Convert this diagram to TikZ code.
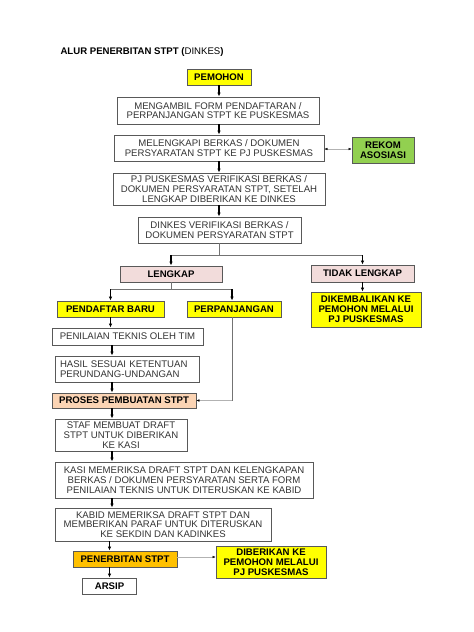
\documentclass[tikz,border=0pt]{standalone}
\usepackage{fontspec}
\setmainfont{Liberation Sans}
\usetikzlibrary{arrows.meta}
\definecolor{boxline}{gray}{.35}
\definecolor{textgray}{gray}{.2}
\definecolor{myyellow}{RGB}{255,255,0}
\definecolor{mygreen}{RGB}{146,208,80}
\definecolor{mypink}{RGB}{242,220,219}
\definecolor{mypeach}{RGB}{251,212,180}
\definecolor{myorange}{RGB}{255,192,0}
\newcommand{\boxfont}{\fontsize{9.6}{9.8}\selectfont}
\tikzset{
    common/.style={draw=boxline, line width=0.9pt, rectangle, inner sep=1pt, align=center},
    plain/.style={common, text=textgray, font=\boxfont},
    strong/.style={common, font=\boxfont\bfseries},
    yellowbox/.style={strong, fill=myyellow},
    pinkbox/.style={strong, fill=mypink},
    arr/.style={-{Latex[length=4pt,width=3.5pt]}, line width=1.1pt},
    link/.style={line width=0.8pt, black!55},
    thinarr/.style={line width=0.4pt, black!30, -{Latex[length=3pt,width=2.6pt,color=black]}},
    thinboth/.style={thinarr, {Latex[length=3pt,width=2.6pt,color=black]}-{Latex[length=3pt,width=2.6pt,color=black]}},
}
\begin{document}
\begin{tikzpicture}[x=1pt, y=-1pt]
    \useasboundingbox (0,0) rectangle (474,632);

    \node[anchor=west, font=\boxfont\bfseries] (title) at (57,52) {ALUR PENERBITAN STPT (\textmd{DINKES})};

    % main column
    \node[yellowbox, minimum width=64pt, minimum height=16pt] (pemohon) at (219,77) {PEMOHON};
    \node[plain, minimum width=202pt, minimum height=27pt] (mengambil) at (218,110.5)
        {MENGAMBIL FORM PENDAFTARAN /\\PERPANJANGAN STPT KE PUSKESMAS};
    \node[plain, minimum width=210pt, minimum height=26pt] (melengkapi) at (219,148)
        {MELENGKAPI BERKAS / DOKUMEN\\PERSYARATAN STPT KE PJ PUSKESMAS};
    \node[strong, fill=mygreen, minimum width=62pt, minimum height=26pt] (rekom) at (383,150)
        {REKOM\\ASOSIASI};
    \node[plain, minimum width=212pt, minimum height=32pt] (pjpusk) at (219,189)
        {PJ PUSKESMAS VERIFIKASI BERKAS /\\DOKUMEN PERSYARATAN STPT, SETELAH\\LENGKAP DIBERIKAN KE DINKES};
    \node[plain, minimum width=163pt, minimum height=26pt] (dinkesver) at (219.5,230)
        {DINKES VERIFIKASI BERKAS /\\DOKUMEN PERSYARATAN STPT};

    % branches
    \node[pinkbox, minimum width=102pt, minimum height=16pt] (lengkap) at (171,274) {LENGKAP};
    \node[pinkbox, minimum width=103pt, minimum height=17pt] (tidak) at (362.5,273.5) {TIDAK LENGKAP};
    \node[yellowbox, minimum width=110pt, minimum height=35pt] (kembali) at (366,309.5)
        {DIKEMBALIKAN KE\\PEMOHON MELALUI\\PJ PUSKESMAS};
    \node[yellowbox, minimum width=107pt, minimum height=16pt] (baru) at (110.5,309) {PENDAFTAR BARU};
    \node[yellowbox, minimum width=94pt, minimum height=16pt] (perpanjangan) at (234,309) {PERPANJANGAN};

    % process column
    \node[plain, minimum width=151pt, minimum height=17pt] (penilaian) at (127.5,336.5) {PENILAIAN TEKNIS OLEH TIM};
    \node[plain, text width=134pt, inner xsep=5pt, align=left, minimum height=26pt] (hasil) at (127,369)
        {HASIL SESUAI KETENTUAN\\PERUNDANG-UNDANGAN};
    \node[strong, fill=mypeach, minimum width=144pt, minimum height=15pt] (proses) at (124,400.5) {PROSES PEMBUATAN STPT};
    \node[plain, minimum width=132pt, minimum height=32pt] (staf) at (121,435)
        {STAF MEMBUAT DRAFT\\STPT UNTUK DIBERIKAN\\KE KASI};
    \node[plain, minimum width=258pt, minimum height=36pt] (kasi) at (184,480)
        {KASI MEMERIKSA DRAFT STPT DAN KELENGKAPAN\\BERKAS / DOKUMEN PERSYARATAN SERTA FORM\\PENILAIAN TEKNIS UNTUK DITERUSKAN KE KABID};
    \node[plain, minimum width=216pt, minimum height=33pt] (kabid) at (163,524.5)
        {KABID MEMERIKSA DRAFT STPT DAN\\MEMBERIKAN PARAF UNTUK DITERUSKAN\\KE SEKDIN DAN KADINKES};
    \node[strong, fill=myorange, minimum width=104pt, minimum height=16pt] (penerbitan) at (125,559) {PENERBITAN STPT};
    \node[yellowbox, minimum width=110pt, minimum height=32pt] (diberikan) at (271,562)
        {DIBERIKAN KE\\PEMOHON MELALUI\\PJ PUSKESMAS};
    \node[strong, minimum width=54pt, minimum height=16pt] (arsip) at (109.5,586) {ARSIP};

    \coordinate (split1) at (219.5,255);
    \coordinate (split2) at (171,289);
    \coordinate (col) at (112,0);
    \coordinate (bend) at (232,400.5);

    % connectors
    \draw[arr] (pemohon.south) -- (pemohon.south |- mengambil.north);
    \draw[arr] (pemohon.south |- mengambil.south) -- (pemohon.south |- melengkapi.north);
    \draw[arr] (pemohon.south |- melengkapi.south) -- (pemohon.south |- pjpusk.north);
    \draw[arr] (pemohon.south |- pjpusk.south) -- (pemohon.south |- dinkesver.north);
    \draw[thinboth] ([yshift=1pt]melengkapi.east |- rekom.west) -- ([yshift=1pt]rekom.west);

    \draw[link] (dinkesver.south) -- (split1);
    \draw[link] (lengkap.north |- split1) -- (tidak.north |- split1);
    \draw[arr] (lengkap.north |- split1) -- (lengkap.north);
    \draw[arr] (tidak.north |- split1) -- (tidak.north);
    \draw[arr] (tidak.south) -- (tidak.south |- kembali.north);

    \draw[link] (lengkap.south) -- (split2);
    \draw[link] (baru.north |- split2) -- ([xshift=-2pt]perpanjangan.north |- split2);
    \draw[arr] (baru.north |- split2) -- (baru.north);
    \draw[arr] ([xshift=-2pt]perpanjangan.north |- split2) -- ([xshift=-2pt]perpanjangan.north);

    \draw[arr] (baru.south) -- (baru.south |- penilaian.north);
    \draw[arr] (col |- penilaian.south) -- (col |- hasil.north);
    \draw[arr] (col |- hasil.south) -- (col |- proses.north);
    \draw[arr] (col |- proses.south) -- (col |- staf.north);
    \draw[arr] (col |- staf.south) -- (col |- kasi.north);
    \draw[arr] (col |- kasi.south) -- (col |- kabid.north);
    \draw[arr] (arsip.north |- kabid.south) -- (arsip.north |- penerbitan.north);
    \draw[arr] (arsip.north |- penerbitan.south) -- (arsip.north);

    \draw[link] (bend |- perpanjangan.south) -- (bend);
    \draw[thinarr] (bend) -- (proses.east);
    \draw[thinarr] ([yshift=2pt]penerbitan.east) -- ([yshift=2pt]penerbitan.east -| diberikan.west);
\end{tikzpicture}
\end{document}
